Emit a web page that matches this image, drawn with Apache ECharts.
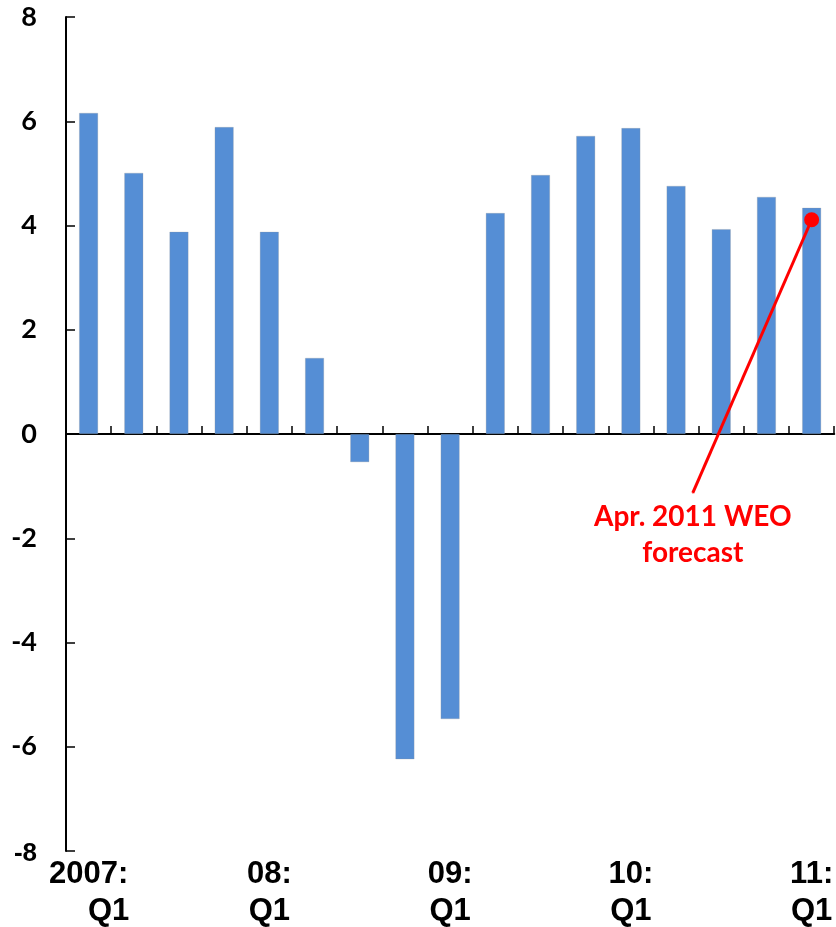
<!DOCTYPE html>
<html>
<head>
<meta charset="utf-8">
<script src="https://cdn.jsdelivr.net/npm/echarts@6/dist/echarts.min.js"></script>
<style>
  html, body { margin: 0; padding: 0; background: #fff; }
  #chart { width: 836px; height: 927px; }
</style>
</head>
<body>
<div id="chart"></div>
<script>
// quarterly growth, 2007:Q1 .. 2011:Q1
const quarters = [
  "2007:Q1", "2007:Q2", "2007:Q3", "2007:Q4",
  "2008:Q1", "2008:Q2", "2008:Q3", "2008:Q4",
  "2009:Q1", "2009:Q2", "2009:Q3", "2009:Q4",
  "2010:Q1", "2010:Q2", "2010:Q3", "2010:Q4",
  "2011:Q1",
];
const growth = [
  6.16, 5.01, 3.88, 5.89,
  3.88, 1.46, -0.54, -6.24,
  -5.47, 4.24, 4.97, 5.72,
  5.87, 4.76, 3.93, 4.55,
  4.34,
];
const yearLabels = ["2007:", "08:", "09:", "10:", "11:"];
const yMin = -8;
const yMax = 8;
const yStep = 2;

// forecast marker + callout line (x in category units on a hidden value axis)
const forecastPoint = [16.5, 4.11];
const calloutEnd = [13.87, -1.13];
const calloutText = "Apr. 2011 WEO\nforecast";

const chart = echarts.init(document.getElementById("chart"));

const option = {
  animation: false,
  grid: { left: 66, right: -5, top: 17, bottom: 76 },
  xAxis: [
    {
      type: "category",
      data: quarters,
      axisLine: { onZero: true, lineStyle: { color: "#000", width: 2 } },
      axisTick: { show: true, inside: true, length: 8, interval: 0, lineStyle: { color: "#000", width: 1.5 } },
      axisLabel: { show: false },
      splitLine: { show: false },
    },
    {
      type: "category",
      data: quarters,
      position: "bottom",
      axisLine: { show: false, onZero: false },
      axisTick: { show: false },
      splitLine: { show: false },
      axisLabel: {
        interval: 3,
        margin: 5,
        formatter: (value, idx) => {
          const year = yearLabels[Math.floor(idx / 4)];
          if (idx === 0) return `{a|${year}}\n{q|Q1}`;
          return `{a|${year}}\n{a|Q1}`;
        },
        rich: {
          a: {
            fontFamily: "Liberation Sans, Arial, sans-serif",
            fontWeight: "bold",
            fontSize: 31,
            color: "#000",
            lineHeight: 37,
          },
          q: {
            fontFamily: "Liberation Sans, Arial, sans-serif",
            fontWeight: "bold",
            fontSize: 31,
            color: "#000",
            lineHeight: 37,
            padding: [0, 0, 0, 40],
          },
        },
      },
    },
    {
      type: "value",
      show: false,
      position: "top",
      min: 0,
      max: quarters.length,
    },
  ],
  yAxis: {
    type: "value",
    min: yMin,
    max: yMax,
    interval: yStep,
    axisLine: { show: true, onZero: false, lineStyle: { color: "#000", width: 2 } },
    axisTick: { show: true, inside: true, length: 9, lineStyle: { color: "#000", width: 1.5 } },
    splitLine: { show: false },
    axisLabel: {
      margin: 29,
      fontFamily: "Lato, sans-serif",
      fontWeight: "bold",
      fontSize: 27,
      color: "#000",
      formatter: (v) => (v === yMin ? `{m|${v}}` : String(v)),
      rich: {
        m: {
          fontFamily: "Liberation Sans, Arial, sans-serif",
          fontSize: 26,
          color: "#000",
          padding: [6, 0, 0, 0],
        },
      },
    },
  },
  series: [
    {
      name: "growth",
      type: "bar",
      xAxisIndex: 0,
      data: growth,
      barWidth: 19,
      itemStyle: {
        color: "#558ed5",
        borderColor: "rgba(150,150,150,0.45)",
        borderWidth: 0.6,
      },
    },
    {
      name: "forecast",
      type: "line",
      xAxisIndex: 2,
      data: [forecastPoint, calloutEnd],
      symbol: "none",
      lineStyle: { color: "#ff0000", width: 3 },
      itemStyle: { color: "#ff0000" },
      z: 5,
    },
    {
      name: "forecastDot",
      type: "scatter",
      xAxisIndex: 2,
      data: [forecastPoint],
      symbol: "circle",
      symbolSize: 15,
      itemStyle: { color: "#ff0000", opacity: 1 },
      z: 6,
    },
    {
      name: "callout",
      type: "scatter",
      xAxisIndex: 2,
      data: [calloutEnd],
      symbol: "circle",
      symbolSize: 1,
      itemStyle: { color: "#ff0000", opacity: 1 },
      label: {
        show: true,
        position: "bottom",
        distance: 6,
        formatter: calloutText,
        fontFamily: "Lato, sans-serif",
        fontWeight: "bold",
        fontSize: 28,
        lineHeight: 36,
        color: "#ff0000",
        align: "center",
      },
      z: 6,
    },
  ],
};

chart.setOption(option);
</script>
</body>
</html>
